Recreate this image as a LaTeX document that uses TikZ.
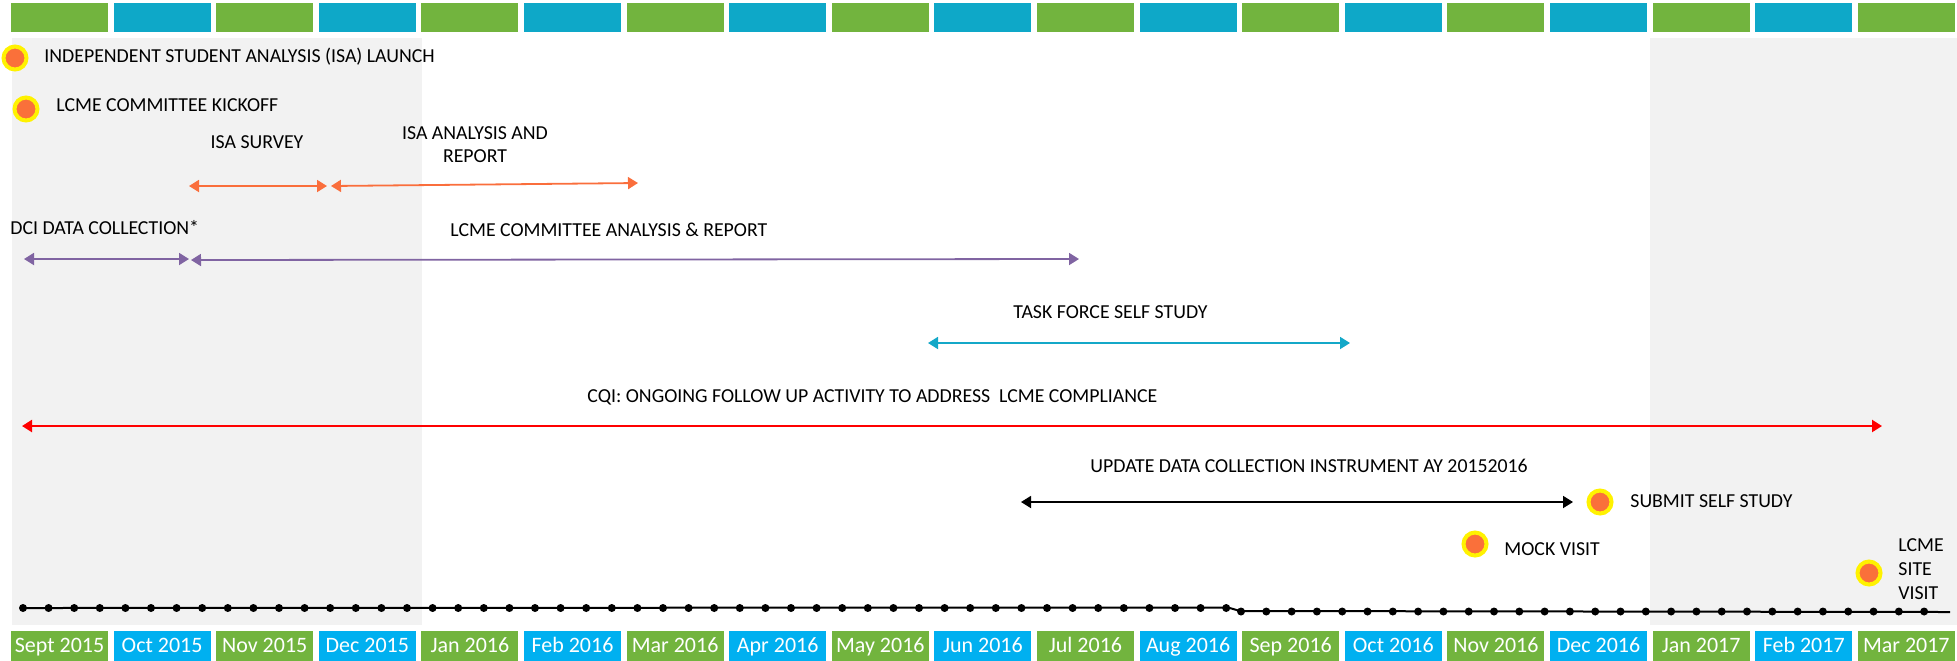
\documentclass[tikz,border=0pt]{standalone}
\usepackage{fontspec}
\setmainfont{Carlito}
\usetikzlibrary{arrows.meta}
\definecolor{topgreen}{RGB}{114,180,62}
\definecolor{topblue}{RGB}{14,168,200}
\definecolor{botblue}{RGB}{0,176,240}
\definecolor{bggray}{RGB}{242,242,242}
\definecolor{markorange}{RGB}{250,112,58}
\definecolor{arrorange}{RGB}{250,110,60}
\definecolor{arrpurple}{RGB}{128,100,162}
\definecolor{arrteal}{RGB}{20,168,200}
\tikzset{
  lbl/.style={font=\fontsize{9.9}{12}\selectfont, inner sep=0pt, anchor=base west, text=black},
  clbl/.style={lbl, anchor=base},
  monthlbl/.style={font=\fontsize{11}{13}\selectfont, text=white, inner sep=0pt, anchor=base},
  marker/.style={circle, fill=markorange, draw=yellow, line width=2pt, minimum size=11.5pt, inner sep=0pt},
  span/.style={line width=0.9pt, {Triangle[length=5pt,width=6pt]}-{Triangle[length=5pt,width=6pt]}},
  tdot/.style={circle, fill=black, inner sep=0pt, minimum size=4pt},
}
\begin{document}
\begin{tikzpicture}[x=0.5pt,y=-0.5pt]
\useasboundingbox (0,0) rectangle (1957,660);
% background gray panels
\fill[bggray] (12,38) rectangle (422,625);
\fill[bggray] (1650,38) rectangle (1957,625);
% top bars and month labels
\foreach \i/\m in {0/Sept 2015,1/Oct 2015,2/Nov 2015,3/Dec 2015,4/Jan 2016,5/Feb 2016,6/Mar 2016,7/Apr 2016,8/May 2016,9/Jun 2016,10/Jul 2016,11/Aug 2016,12/Sep 2016,13/Oct 2016,14/Nov 2016,15/Dec 2016,16/Jan 2017,17/Feb 2017,18/Mar 2017}{
  \pgfmathsetmacro{\xa}{11+\i*102.6}
  \pgfmathsetmacro{\xb}{\xa+97}
  \pgfmathsetmacro{\xc}{\xa+48.5}
  \pgfmathtruncatemacro{\odd}{mod(\i,2)}
  \ifnum\odd=0
    \fill[topgreen] (\xa,3) rectangle (\xb,32);
    \fill[topgreen] (\xa,631) rectangle (\xb,661);
  \else
    \fill[topblue] (\xa,3) rectangle (\xb,32);
    \fill[botblue] (\xa,631) rectangle (\xb,661);
  \fi
  \node[monthlbl] (month\i) at (\xc,652) {\m};
}
% timeline
\coordinate (tl0) at (23,608);
\coordinate (tl1) at (1228,607.5);
\coordinate (tl2) at (1240,611);
\coordinate (tl3) at (1950,612);
\draw[line width=1pt] (tl0) -- (tl1) -- (tl2) -- (tl3);
\foreach \i in {0,...,47}{\node[tdot] (da\i) at (23+\i*25.6,608) {};}
\foreach \i in {0,...,27}{\node[tdot] (db\i) at (1241+\i*25.3,611.5) {};}
% milestones
\node[marker] (isalaunch) at (15,58) {};
\node[lbl] (tisalaunch) at (44,62.7) {INDEPENDENT STUDENT ANALYSIS (ISA) LAUNCH};
\node[marker] (kickoff) at (26,109) {};
\node[lbl] (tkickoff) at (56,111) {LCME COMMITTEE KICKOFF};
\node[marker] (submit) at (1600,502) {};
\node[lbl] (tsubmit) at (1630,507.7) {SUBMIT SELF STUDY};
\node[marker] (mock) at (1475,544) {};
\node[lbl] (tmock) at (1504,555) {MOCK VISIT};
\node[marker] (site) at (1869,573) {};
\node[lbl] (tsite1) at (1898,551.7) {LCME};
\node[lbl] (tsite2) at (1898,575.3) {SITE};
\node[lbl] (tsite3) at (1898,599) {VISIT};
% activity labels
\node[clbl] (tsurvey) at (257,148) {ISA SURVEY};
\node[clbl] (tanal1) at (475,139) {ISA ANALYSIS AND};
\node[clbl] (tanal2) at (475,162) {REPORT};
\node[lbl] (tdci) at (10,234.5) {DCI DATA COLLECTION*};
\node[lbl] (tlcme) at (450,236.7) {LCME COMMITTEE ANALYSIS \& REPORT};
\node[lbl] (ttask) at (1013,318.5) {TASK FORCE SELF STUDY};
\node[lbl] (tcqi) at (587,402.5) {CQI: ONGOING FOLLOW UP ACTIVITY TO ADDRESS\ \ LCME COMPLIANCE};
\node[lbl] (tupdate) at (1090,472.3) {UPDATE DATA COLLECTION INSTRUMENT AY 20152016};
% arrow end points
\coordinate (s1) at (189,186); \coordinate (s2) at (327,186);
\coordinate (a1) at (331,186); \coordinate (a2) at (638,183);
\coordinate (d1) at (24,259);  \coordinate (d2) at (189,259);
\coordinate (l1) at (191,260); \coordinate (l2) at (1079,259);
\coordinate (t1) at (928,343); \coordinate (t2) at (1350,343);
\coordinate (c1) at (22,426);  \coordinate (c2) at (1882,426);
\coordinate (u1) at (1021,502); \coordinate (u2) at (1573,502);
\draw[span, arrorange] (s1) -- (s2);
\draw[span, arrorange] (a1) -- (a2);
\draw[span, arrpurple] (d1) -- (d2);
\draw[span, arrpurple] (l1) -- (l2);
\draw[span, arrteal] (t1) -- (t2);
\draw[span, red, line width=1.1pt] (c1) -- (c2);
\draw[span, black] (u1) -- (u2);
\end{tikzpicture}
\end{document}
